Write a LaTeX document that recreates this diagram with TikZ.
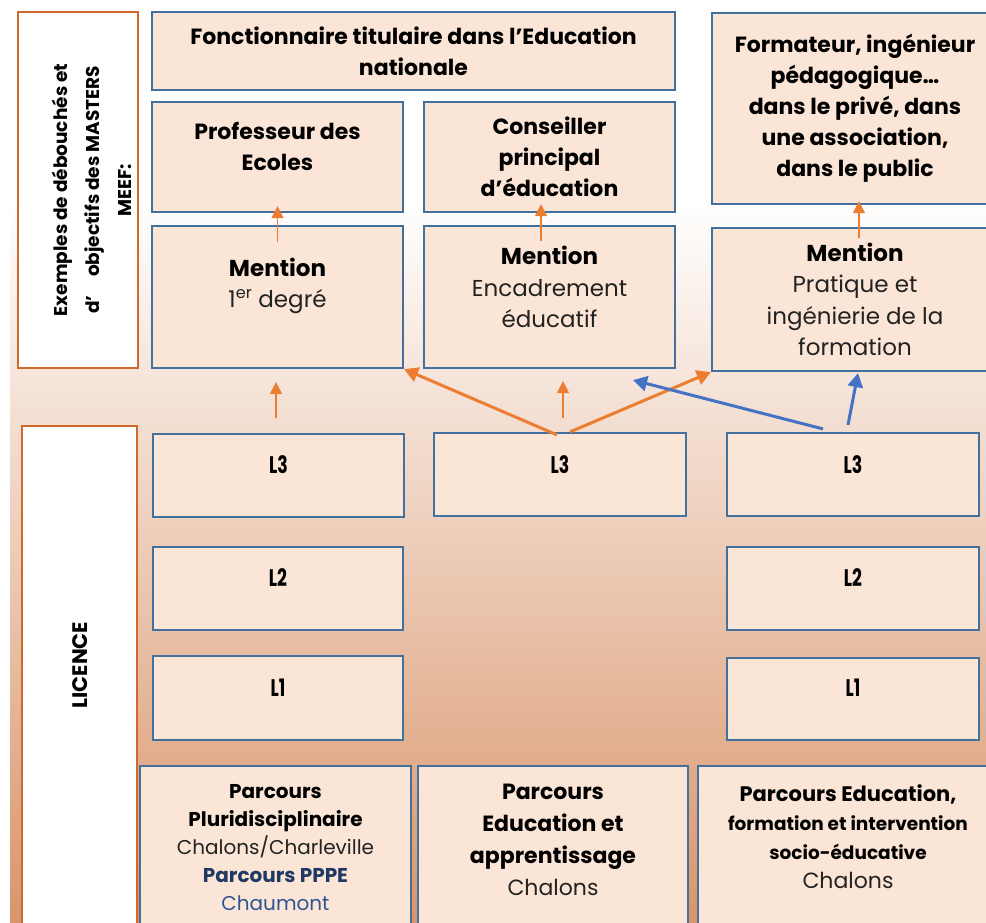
\documentclass[tikz,border=0pt]{standalone}
\usepackage{fontspec}
\usepackage{graphicx}
\setmainfont{Poppins}
\usetikzlibrary{arrows.meta}

\definecolor{boxfill}{HTML}{FBE5D6}
\definecolor{boxline}{HTML}{41719C}
\definecolor{labelline}{HTML}{D0692A}
\definecolor{arroworange}{HTML}{ED7D31}
\definecolor{arrowblue}{HTML}{4472C4}
\definecolor{bgorange}{HTML}{D9956B}
\definecolor{pppenavy}{HTML}{1F3864}
\definecolor{chaumontblue}{HTML}{2F5597}
\definecolor{plaintext}{HTML}{222222}

\begin{document}
\begin{tikzpicture}
  [
    x = 1pt, y = -1pt,
    box/.style = {draw=boxline,fill=boxfill,line width=2.2pt,inner sep=0pt},
    side box/.style = {draw=labelline,fill=white,line width=1.4pt,inner sep=0pt},
    job text/.style = {align=center,font=\bfseries\fontsize{22}{31}\selectfont},
    mention text/.style = {align=center,text=plaintext,font=\fontsize{23}{31.5}\selectfont},
    level text/.style = {font=\bfseries\fontsize{24}{26}\selectfont},
    side text/.style = {rotate=90,align=center,font=\bfseries\fontsize{18.5}{32}\selectfont},
    parcours text/.style = {align=center,text=plaintext,font=\fontsize{20}{28}\selectfont},
    step up/.style = {-{Triangle[length=12pt,width=12pt]},arroworange,line width=1.3pt},
    fan/.style = {-{Triangle[length=14pt,width=15pt]},line width=3pt},
  ]

  \path[use as bounding box,clip] (0,0) rectangle (986,923);
  \fill[white] (0,0) rectangle (986,923);
  \shade[top color=white,bottom color=bgorange] (10,200) rectangle (986,923);

  % left labels
  \node[side box,minimum width=120pt,minimum height=356pt] (debouches) at (78,190) {};
  \node[side text] (debouchestext) at (92,190) {Exemples de débouchés et\\d’\quad objectifs des MASTERS\\MEEF:};
  \node[side box,minimum width=115pt,minimum height=520pt] (licence) at (79.5,686) {};
  \node[side text,font=\bfseries\fontsize{21}{24}\selectfont] (licencetext) at (80,665) {LICENCE};

  % jobs
  \node[box,minimum width=523pt,minimum height=78pt,job text] (fonctionnaire) at (413.5,51) {Fonctionnaire titulaire dans l’Education\\nationale};
  \node[box,minimum width=251pt,minimum height=110pt] (professeur) at (277.5,157) {};
  \node[job text] (professeurtext) at (277.5,146) {Professeur des\\Ecoles};
  \node[box,minimum width=251pt,minimum height=110pt,job text] (cpe) at (549.5,157) {Conseiller\\principal\\d’éducation};
  \node[box,minimum width=286pt,minimum height=191pt,job text] (formateur) at (855,108.5) {Formateur, ingénieur\\pédagogique…\\dans le privé, dans\\une association,\\dans le public};

  % mentions
  \node[box,minimum width=251pt,minimum height=142pt] (premier) at (277.5,297) {};
  \node[mention text] (premiertext) at (277.5,286) {\textbf{\color{black}Mention}\\1\textsuperscript{er} degré};
  \node[box,minimum width=251pt,minimum height=142pt] (encadrement) at (549.5,297) {};
  \node[mention text] (encadrementtext) at (549.5,287) {\textbf{\color{black}Mention}\\Encadrement\\éducatif};
  \node[box,minimum width=286pt,minimum height=143pt,mention text] (pratique) at (855,299.5) {\textbf{\color{black}Mention}\\Pratique et\\ingénierie de la\\formation};

  % licence years
  \node[box,minimum width=251pt,minimum height=83pt] (lthreea) at (278.5,475.5) {};
  \node[level text] (lthreeatext) at (278.5,465) {\scalebox{0.72}[1]{L3}};
  \node[box,minimum width=252pt,minimum height=83pt] (lthreeb) at (560,474.5) {};
  \node[level text] (lthreebtext) at (560,465) {\scalebox{0.72}[1]{L3}};
  \node[box,minimum width=252pt,minimum height=83pt] (lthreec) at (853,474.5) {};
  \node[level text] (lthreectext) at (853,465) {\scalebox{0.72}[1]{L3}};
  \node[box,minimum width=250pt,minimum height=83pt] (ltwoa) at (278,588.5) {};
  \node[level text] (ltwoatext) at (278,578) {\scalebox{0.72}[1]{L2}};
  \node[box,minimum width=252pt,minimum height=83pt] (ltwoc) at (853,588.5) {};
  \node[level text] (ltwoctext) at (853,578) {\scalebox{0.72}[1]{L2}};
  \node[box,minimum width=250pt,minimum height=84pt] (lonea) at (278,698) {};
  \node[level text] (loneatext) at (278,688) {\scalebox{0.72}[1]{L1}};
  \node[box,minimum width=252pt,minimum height=82pt] (lonec) at (853,699) {};
  \node[level text] (lonectext) at (853,688) {\scalebox{0.72}[1]{L1}};

  % parcours
  \node[box,minimum width=271pt,minimum height=170pt] (pluri) at (275.5,851) {};
  \node[parcours text] (pluritext) at (275.5,848) {\textbf{\color{black}Parcours}\\\textbf{\color{black}Pluridisciplinaire}\\Chalons/Charleville\\\textbf{\color{pppenavy}Parcours PPPE}\\\textcolor{chaumontblue}{Chaumont}};
  \node[box,minimum width=270pt,minimum height=170pt] (apprentissage) at (553,851) {};
  \node[parcours text,font=\fontsize{22}{32}\selectfont] (apprentissagetext) at (553,840) {\textbf{\color{black}Parcours}\\\textbf{\color{black}Education et}\\\textbf{\color{black}apprentissage}\\Chalons};
  \node[box,minimum width=300pt,minimum height=170pt] (socio) at (848,851) {};
  \node[parcours text,font=\fontsize{18.5}{29}\selectfont] (sociotext) at (848,837) {{\bfseries\color{black}\fontsize{21}{29}\selectfont Parcours Education,}\\\textbf{\color{black}formation et intervention}\\\textbf{\color{black}socio-éducative}\\{\fontsize{22}{29}\selectfont Chalons}};

  % arrows
  \draw[step up] ([yshift=-17pt]premier.north) -- ([yshift=7pt]professeur.south);
  \draw[step up] ([xshift=-8.5pt,yshift=-16pt]encadrement.north) -- ([xshift=-8.5pt,yshift=9pt]cpe.south);
  \draw[step up] ([xshift=4pt,yshift=-11pt]pratique.north) -- ([xshift=4pt,yshift=4pt]formateur.south);
  \draw[step up] ([xshift=-2.5pt,yshift=15pt]lthreea.north) -- ([xshift=-1.5pt,yshift=-13pt]premier.south);
  \draw[step up] ([xshift=3pt,yshift=14pt]lthreeb.north) -- ([xshift=13.5pt,yshift=-12pt]encadrement.south);
  \draw[fan,arroworange] ([xshift=-3pt,yshift=-3pt]lthreeb.north) -- (premier.south east);
  \draw[fan,arroworange] ([xshift=10pt]lthreeb.north) -- (pratique.south west);
  \draw[fan,arrowblue] ([xshift=-30pt,yshift=3pt]lthreec.north) -- ([xshift=83.5pt,yshift=-11pt]encadrement.south);
  \draw[fan,arrowblue] ([xshift=-5pt,yshift=7pt]lthreec.north) -- ([xshift=3pt,yshift=-1pt]pratique.south);

\end{tikzpicture}
\end{document}
